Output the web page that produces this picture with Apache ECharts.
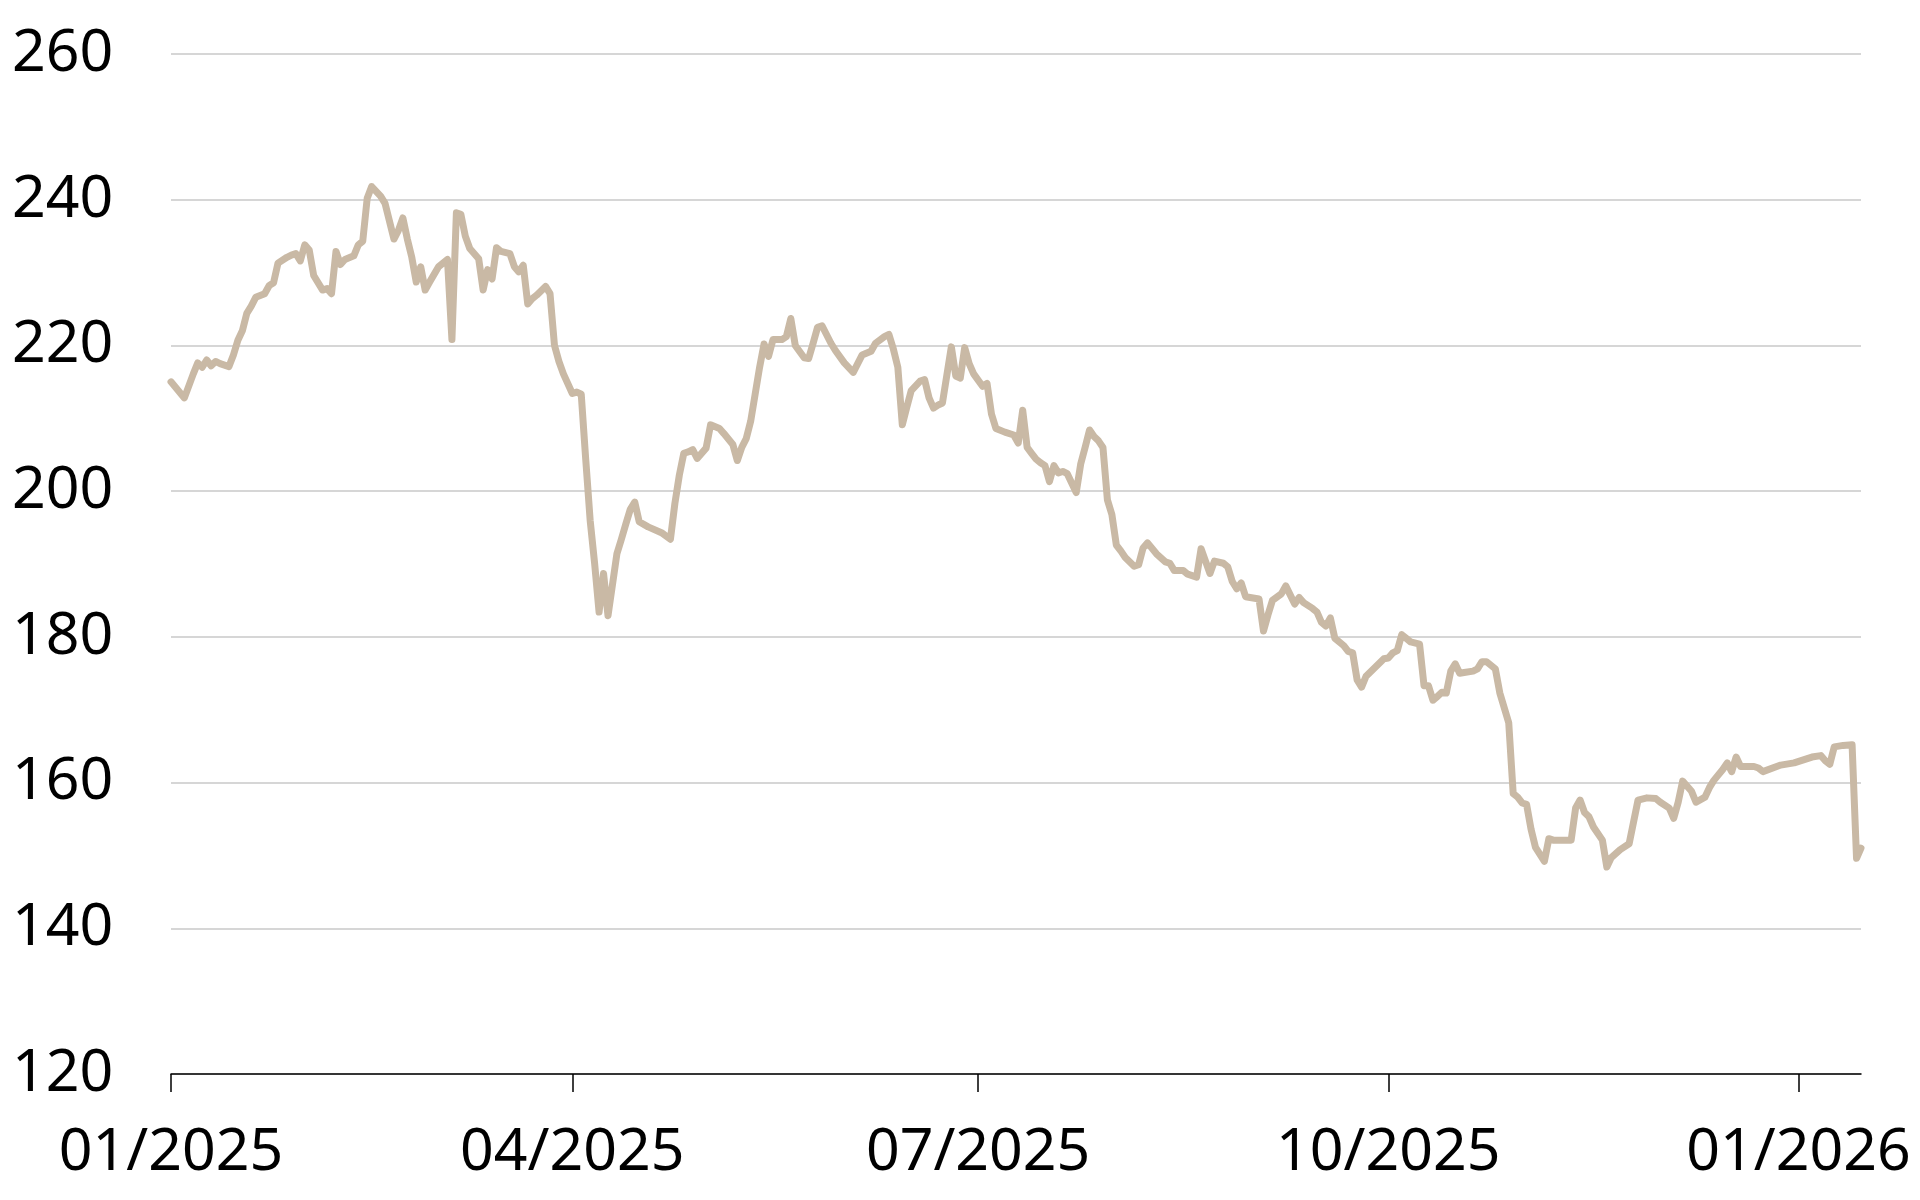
<!DOCTYPE html>
<html>
<head>
<meta charset="utf-8">
<script src="https://cdn.jsdelivr.net/npm/echarts@6/dist/echarts.min.js"></script>
<style>
html,body{margin:0;padding:0;background:#fff;}
#chart{width:1920px;height:1200px;}
</style>
</head>
<body>
<div id="chart"></div>
<script>
// ---- data ----
const dates = [
'2025-01-01','2025-01-04','2025-01-06','2025-01-07','2025-01-08','2025-01-09','2025-01-10','2025-01-11','2025-01-12','2025-01-14',
'2025-01-15','2025-01-16','2025-01-17','2025-01-18','2025-01-19','2025-01-20','2025-01-22','2025-01-23','2025-01-24','2025-01-25',
'2025-01-27','2025-01-28','2025-01-29','2025-01-30','2025-01-31','2025-02-01','2025-02-02','2025-02-04','2025-02-05','2025-02-06',
'2025-02-07','2025-02-08','2025-02-09','2025-02-11','2025-02-12','2025-02-13','2025-02-14','2025-02-15','2025-02-17','2025-02-18',
'2025-02-20','2025-02-21','2025-02-22','2025-02-23','2025-02-24','2025-02-25','2025-02-26','2025-02-27','2025-02-28','2025-03-02',
'2025-03-04','2025-03-05','2025-03-06','2025-03-07','2025-03-08','2025-03-09','2025-03-11','2025-03-12','2025-03-13','2025-03-14',
'2025-03-15','2025-03-16','2025-03-18','2025-03-19','2025-03-20','2025-03-21','2025-03-22','2025-03-23','2025-03-24','2025-03-26',
'2025-03-27','2025-03-28','2025-03-29','2025-03-30','2025-04-01','2025-04-02','2025-04-03','2025-04-04','2025-04-05','2025-04-06',
'2025-04-07','2025-04-08','2025-04-09','2025-04-11','2025-04-12','2025-04-13','2025-04-14','2025-04-15','2025-04-16','2025-04-18',
'2025-04-21','2025-04-23','2025-04-24','2025-04-25','2025-04-26','2025-04-27','2025-04-28','2025-04-29','2025-05-01','2025-05-02',
'2025-05-04','2025-05-05','2025-05-07','2025-05-08','2025-05-09','2025-05-10','2025-05-11','2025-05-12','2025-05-13','2025-05-14',
'2025-05-15','2025-05-16','2025-05-18','2025-05-19','2025-05-20','2025-05-21','2025-05-23','2025-05-24','2025-05-25','2025-05-26',
'2025-05-27','2025-05-29','2025-05-30','2025-06-01','2025-06-03','2025-06-04','2025-06-05','2025-06-07','2025-06-08','2025-06-10',
'2025-06-11','2025-06-12','2025-06-13','2025-06-14','2025-06-15','2025-06-16','2025-06-18','2025-06-19','2025-06-20','2025-06-21',
'2025-06-22','2025-06-23','2025-06-25','2025-06-26','2025-06-27','2025-06-28','2025-06-29','2025-06-30','2025-07-02','2025-07-03',
'2025-07-04','2025-07-05','2025-07-07','2025-07-09','2025-07-10','2025-07-11','2025-07-12','2025-07-13','2025-07-14','2025-07-15',
'2025-07-16','2025-07-17','2025-07-18','2025-07-19','2025-07-20','2025-07-21','2025-07-23','2025-07-24','2025-07-25','2025-07-26',
'2025-07-27','2025-07-28','2025-07-29','2025-07-30','2025-07-31','2025-08-01','2025-08-02','2025-08-03','2025-08-05','2025-08-06',
'2025-08-07','2025-08-08','2025-08-10','2025-08-12','2025-08-13','2025-08-14','2025-08-16','2025-08-17','2025-08-19','2025-08-20',
'2025-08-21','2025-08-22','2025-08-23','2025-08-25','2025-08-26','2025-08-27','2025-08-28','2025-08-29','2025-08-30','2025-08-31',
'2025-09-02','2025-09-03','2025-09-04','2025-09-05','2025-09-07','2025-09-08','2025-09-10','2025-09-11','2025-09-12','2025-09-14',
'2025-09-15','2025-09-16','2025-09-17','2025-09-18','2025-09-19','2025-09-21','2025-09-22','2025-09-23','2025-09-24','2025-09-25',
'2025-09-26','2025-09-28','2025-09-30','2025-10-01','2025-10-02','2025-10-03','2025-10-04','2025-10-05','2025-10-06','2025-10-08',
'2025-10-09','2025-10-10','2025-10-11','2025-10-12','2025-10-13','2025-10-14','2025-10-15','2025-10-16','2025-10-17','2025-10-18',
'2025-10-20','2025-10-21','2025-10-22','2025-10-23','2025-10-25','2025-10-26','2025-10-28','2025-10-29','2025-10-30','2025-10-31',
'2025-11-01','2025-11-02','2025-11-03','2025-11-05','2025-11-06','2025-11-07','2025-11-08','2025-11-11','2025-11-12','2025-11-13',
'2025-11-14','2025-11-15','2025-11-16','2025-11-18','2025-11-19','2025-11-20','2025-11-22','2025-11-24','2025-11-26','2025-11-28',
'2025-11-30','2025-12-01','2025-12-03','2025-12-04','2025-12-05','2025-12-06','2025-12-08','2025-12-09','2025-12-11','2025-12-12',
'2025-12-13','2025-12-15','2025-12-16','2025-12-17','2025-12-18','2025-12-19','2025-12-22','2025-12-23','2025-12-24','2025-12-28',
'2025-12-31','2026-01-04','2026-01-06','2026-01-07','2026-01-08','2026-01-09','2026-01-11','2026-01-13','2026-01-14','2026-01-15'
];
const values = [
215.0,212.8,216.1,217.6,217.0,218.0,217.2,217.8,217.5,217.1,
218.7,220.7,222.0,224.4,225.4,226.6,227.1,228.2,228.6,231.3,
232.1,232.4,232.6,231.6,233.8,233.1,229.6,227.6,227.8,227.1,
232.9,231.1,231.8,232.3,233.8,234.3,240.2,241.8,240.5,239.5,
234.6,235.8,237.5,234.6,232.1,228.7,230.8,227.6,228.7,230.8,
231.8,220.8,238.2,238.0,235.0,233.3,231.9,227.6,230.4,229.1,
233.4,232.9,232.6,230.8,230.1,231.0,225.7,226.4,226.9,228.1,
227.1,220.0,217.8,216.1,213.4,213.6,213.3,204.4,196.0,190.1,
183.4,188.7,182.9,191.4,193.4,195.5,197.5,198.5,195.8,195.1,
194.3,193.4,198.3,202.2,205.2,205.4,205.7,204.5,205.9,209.1,
208.6,207.9,206.4,204.2,206.0,207.2,209.6,213.3,217.0,220.2,
218.5,220.8,220.8,221.2,223.7,220.0,218.3,218.2,220.3,222.5,
222.7,220.3,219.3,217.6,216.3,217.5,218.7,219.2,220.3,221.2,
221.5,219.5,217.0,209.1,211.5,213.8,215.1,215.3,212.8,211.4,
211.8,212.1,219.8,215.8,215.5,219.7,217.5,216.1,214.4,214.8,
210.6,208.6,208.1,207.7,206.6,211.1,206.0,205.2,204.4,203.9,
203.5,201.3,203.5,202.5,202.7,202.4,199.8,203.7,206.0,208.4,
207.5,206.9,206.0,198.8,196.8,192.6,191.8,190.9,189.7,189.9,
192.2,192.9,191.4,190.3,190.1,189.1,189.1,188.6,188.2,192.1,
190.4,188.7,190.4,190.1,189.6,187.6,186.6,187.4,185.5,185.4,
185.2,180.8,183.0,185.0,185.9,187.0,184.5,185.4,184.7,183.9,
183.4,182.0,181.5,182.6,179.8,178.8,178.0,177.8,174.1,173.1,
174.6,175.8,177.0,177.1,177.8,178.1,180.3,179.8,179.3,179.0,
173.3,173.3,171.3,171.8,172.4,172.3,175.3,176.3,175.0,175.1,
175.3,175.6,176.6,176.6,175.6,172.3,168.2,158.5,158.0,157.2,
157.0,153.6,151.1,149.2,152.3,152.1,152.1,152.1,156.5,157.6,
155.9,155.3,153.9,152.1,148.4,149.7,150.8,151.6,157.6,157.9,
157.8,157.3,156.5,155.1,157.3,160.2,158.8,157.3,158.0,159.3,
160.3,161.8,162.7,161.5,163.5,162.2,162.2,162.0,161.5,162.4,
162.7,163.5,163.7,163.0,162.5,164.9,165.1,165.2,149.6,151.0
];
const xTickDates = ['2025-01-01','2025-04-01','2025-07-01','2025-10-01','2026-01-01'];
const xTickLabels = ['01/2025','04/2025','07/2025','10/2025','01/2026'];
const xRange = ['2025-01-01','2026-01-15'];
const yMin = 120, yMax = 260, yStep = 20;

// ---- chart ----
function toTime(s){const p=s.split('-').map(Number);return Date.UTC(p[0],p[1]-1,p[2]);}
const tickTimes = xTickDates.map(toTime);
const seriesData = dates.map((d,i)=>[toTime(d), values[i]]);
const FONT = 'Noto Sans';

const chart = echarts.init(document.getElementById('chart'), null, {renderer:'canvas'});
chart.setOption({
  animation:false,
  backgroundColor:'#ffffff',
  grid:{left:171, right:59, top:54, bottom:126, outerBoundsMode:'none', containLabel:false},
  xAxis:{
    type:'value',
    min:toTime(xRange[0]), max:toTime(xRange[1]),
    axisLine:{show:true, lineStyle:{color:'#000', width:1.5}},
    axisTick:{show:true, customValues:tickTimes, length:18, lineStyle:{color:'#000', width:1.5}},
    axisLabel:{
      customValues:tickTimes,
      margin:50,
      color:'#000', fontFamily:FONT, fontSize:59, lineHeight:59,
      formatter:function(v){
        let best=0, bd=Infinity;
        tickTimes.forEach((t,i)=>{const d=Math.abs(t-v); if(d<bd){bd=d;best=i;}});
        return xTickLabels[best];
      }
    },
    splitLine:{show:false}
  },
  yAxis:{
    type:'value', min:yMin, max:yMax, interval:yStep,
    axisLine:{show:false}, axisTick:{show:false},
    axisLabel:{align:'left', margin:159, color:'#000', fontFamily:FONT, fontSize:59},
    splitLine:{show:true, lineStyle:{color:'#c8c8c8', width:1.5}}
  },
  series:[{
    type:'line', data:seriesData, showSymbol:false, symbol:'none',
    lineStyle:{color:'#C9B9A5', width:7, join:'round', cap:'round'},
    z:3
  }]
});
</script>
</body>
</html>
